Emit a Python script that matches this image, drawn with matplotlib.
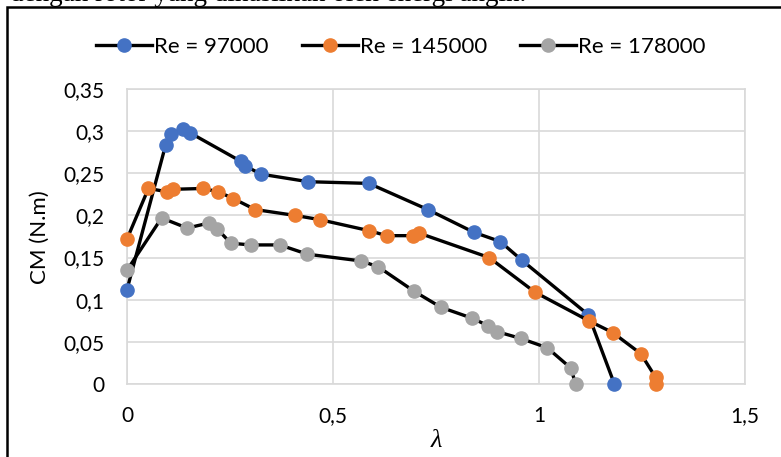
import numpy as np
import matplotlib
matplotlib.use("Agg")
import matplotlib.pyplot as plt
from matplotlib.patches import Rectangle

# data (lambda, CM)
lam_97 = [0, 0.094, 0.107, 0.135, 0.153, 0.277, 0.286, 0.325, 0.440, 0.587,
          0.730, 0.842, 0.906, 0.958, 1.120, 1.183]
cm_97 = [0.112, 0.284, 0.297, 0.302, 0.298, 0.264, 0.259, 0.249, 0.240, 0.238,
         0.207, 0.180, 0.169, 0.147, 0.082, 0.0]

lam_145 = [0, 0.052, 0.098, 0.112, 0.185, 0.222, 0.258, 0.311, 0.408, 0.468,
           0.587, 0.630, 0.695, 0.709, 0.879, 0.990, 1.121, 1.179, 1.247,
           1.283, 1.283]
cm_145 = [0.172, 0.232, 0.228, 0.231, 0.232, 0.228, 0.220, 0.207, 0.200, 0.195,
          0.182, 0.176, 0.176, 0.179, 0.150, 0.109, 0.075, 0.061, 0.036,
          0.008, 0.0]

lam_178 = [0, 0.084, 0.146, 0.199, 0.219, 0.252, 0.301, 0.371, 0.438, 0.568,
           0.610, 0.697, 0.762, 0.838, 0.877, 0.899, 0.956, 1.020, 1.077, 1.089]
cm_178 = [0.135, 0.197, 0.185, 0.191, 0.184, 0.167, 0.165, 0.165, 0.154, 0.146,
          0.139, 0.110, 0.091, 0.078, 0.069, 0.062, 0.054, 0.043, 0.019, 0.0]

labels = ["Re = 97000", "Re = 145000", "Re = 178000"]
colors = ["#4472C4", "#ED7D31", "#A5A5A5"]

xticks = [0, 0.5, 1, 1.5]
yticks = [0, 0.05, 0.1, 0.15, 0.2, 0.25, 0.3, 0.35]

plt.rcParams['font.family'] = ['Lato', 'DejaVu Sans']

fig = plt.figure(figsize=(7.81, 4.57), dpi=100)
ax = fig.add_axes([127/781, 1-384/457, (745-127)/781, (384-89)/457])

series = [(lam_97, cm_97), (lam_145, cm_145), (lam_178, cm_178)]
for i, (x, y) in enumerate(series):
    ax.plot(x, y, color='black', lw=2.4, marker='o', ms=9.5,
            mfc=colors[i], mec=colors[i], label=labels[i],
            zorder=3+i, clip_on=False)

ax.set_xlim(0, 1.5)
ax.set_ylim(0, 0.35)
ax.set_xticks(xticks)
ax.set_yticks(yticks)
fmt = lambda v: ('%g' % v).replace('.', ',')
ax.set_xticklabels([fmt(v) for v in xticks])
ax.set_yticklabels([fmt(v) for v in yticks])
ax.tick_params(length=0, labelsize=15, colors='#000000')
ax.tick_params(axis='y', pad=16)
ax.tick_params(axis='x', pad=16)
ax.grid(True, color='#D9D9D9', lw=1.2)
ax.set_axisbelow(True)
for s in ax.spines.values():
    s.set_color('#D9D9D9')
    s.set_linewidth(1.2)

fig.text(40/781, 1-237/457, 'CM (N.m)', rotation=90, fontsize=16,
         ha='center', va='center')
fig.text(436/781, 1-441/457, 'λ', fontsize=19, style='italic',
         family='Liberation Serif', ha='center', va='center')

leg = fig.legend(loc='center', bbox_to_anchor=(401/781, 1-47/457), ncol=3,
                 frameon=False, fontsize=16, handlelength=2.5,
                 columnspacing=1.5, handletextpad=0.1)

# chart border (right and bottom run off the picture)
fig.patches.append(Rectangle((7/781, -0.1), 1.1, 1-7/457+0.1,
                             transform=fig.transFigure, fill=False,
                             ec='black', lw=1.8))

# cut-off line of the document text above the chart
fig.text(10/781, 1-1/457, 'dengan rotor yang dihasilkan oleh energi angin.',
         family='Liberation Serif', fontsize=19.5, ha='left', va='baseline')

fig.savefig('out.png', dpi=100)
